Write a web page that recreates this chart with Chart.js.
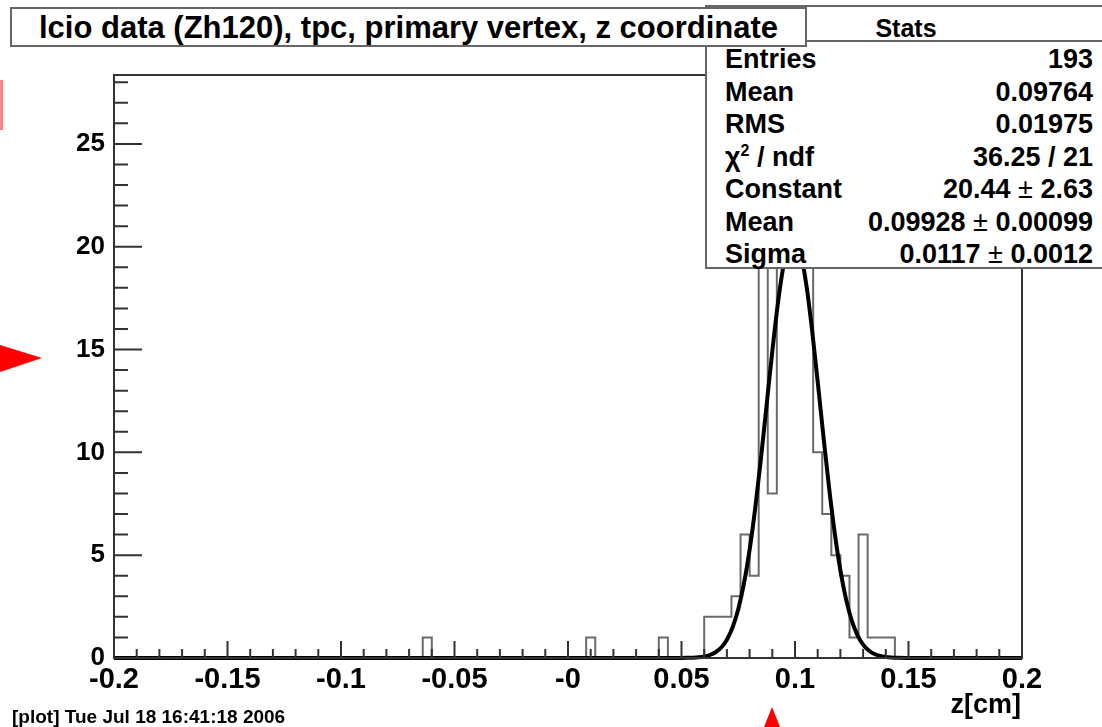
<!DOCTYPE html>
<html>
<head>
<meta charset="utf-8">
<script src="https://cdn.jsdelivr.net/npm/chart.js@4.4.1/dist/chart.umd.min.js"></script>
<style>
  body { margin: 0; background: #fff; }
  #page { position: relative; width: 1102px; height: 727px; overflow: hidden;
          font-family: "Liberation Sans", Arial, Helvetica, sans-serif; font-weight: bold; color: #000; }
  canvas { position: absolute; left: 0; top: 0; }
  .pave { position: absolute; background: #fff; border: 2px solid #666; box-sizing: border-box; }
  #title { left: 10px; top: 7px; width: 797px; height: 40px; font-size: 31px; line-height: 37px;
           text-align: center; z-index: 3; white-space: nowrap; }
  #stats { left: 705px; top: 5px; width: 402px; height: 264px; z-index: 2; font-size: 27px; }
  #stats .head { position: absolute; left: 0; right: 0; top: 0; height: 33px; line-height: 42px;
                 text-align: center; border-bottom: 2px solid #666; font-size: 25px; }
  #stats .row { position: absolute; left: 18px; width: 368px; height: 30px; line-height: 30px; white-space: nowrap; }
  #stats .val { position: absolute; right: 0; top: 0; }
  #stats sup { font-size: 16px; line-height: 0; vertical-align: 10px; }
  .pm { font-weight: normal; }
  #footer { position: absolute; left: 12px; top: 706px; font-size: 19px; white-space: nowrap; }
  #xtitle { position: absolute; right: 81px; top: 689px; font-size: 27px; }
  svg { position: absolute; left: 0; top: 0; z-index: 4; }
</style>
</head>
<body>
<div id="page">
  <canvas id="c" width="1102" height="727"></canvas>
  <div id="title" class="pave"></div>
  <div id="stats" class="pave"><div class="head">Stats</div></div>
  <div id="xtitle"></div>
  <div id="footer"></div>
  <svg width="1102" height="727">
    <rect x="0" y="80" width="3" height="50" fill="#f33" opacity="0.6"></rect>
    <polygon points="0,345 42,358 0,372" fill="#f00"></polygon>
    <polygon points="772,707 764,727 780,727" fill="#f00"></polygon>
  </svg>
</div>
<script>
// histogram: 100 bins of 0.004 from -0.2 to 0.2, only the filled ones listed
const xMin = -0.2, xMax = 0.2, binWidth = 0.004;
const binLow = [-0.064, 0.008, 0.040, 0.060, 0.064, 0.068, 0.072, 0.076, 0.080, 0.084,
                0.088, 0.092, 0.096, 0.100, 0.104, 0.108, 0.112, 0.116, 0.120, 0.124,
                0.128, 0.132, 0.136, 0.140];
const binCounts = [1, 1, 1, 2, 2, 2, 3, 6, 4, 23,
                   8, 26, 27, 27, 24, 10, 7, 5, 4, 1,
                   6, 1, 1, 1];

// gaussian fit curve
const fitZ = [-0.2, 0.045, 0.050, 0.0525, 0.055, 0.0575, 0.060, 0.0625, 0.065, 0.0675, 0.070,
              0.0725, 0.075, 0.0775, 0.080, 0.0825, 0.085, 0.0875, 0.090, 0.0925, 0.095,
              0.0975, 0.100, 0.1025, 0.105, 0.1075, 0.110, 0.1125, 0.115, 0.1175, 0.120,
              0.1225, 0.125, 0.1275, 0.130, 0.1325, 0.135, 0.1375, 0.140, 0.1425, 0.145,
              0.150, 0.155, 0.2];
const fitY = [0, 0.0005, 0.003, 0.007, 0.016, 0.035, 0.073, 0.146, 0.280, 0.511, 0.892,
              1.488, 2.373, 3.612, 5.257, 7.312, 9.705, 12.31, 14.92, 17.28, 19.12,
              20.21, 20.40, 19.68, 18.14, 15.97, 13.43, 10.80, 8.289, 6.079, 4.260,
              2.852, 1.824, 1.115, 0.651, 0.363, 0.193, 0.0985, 0.0479, 0.0222, 0.0099,
              0.002, 0.0004, 0];

const xTicks = [-0.2, -0.15, -0.1, -0.05, 0, 0.05, 0.1, 0.15, 0.2];
const xTickLabels = ["-0.2", "-0.15", "-0.1", "-0.05", "-0", "0.05", "0.1", "0.15", "0.2"];
const yTicks = [0, 5, 10, 15, 20, 25];
const yTickLabels = ["0", "5", "10", "15", "20", "25"];
const yMax = 28.35;

const titleText = "lcio data (Zh120), tpc, primary vertex, z coordinate";
const statsNames = ["Entries", "Mean", "RMS", "χ<sup>2</sup> / ndf", "Constant", "Mean", "Sigma"];
const statsValues = ["193", "0.09764", "0.01975", "36.25 / 21",
                     "20.44 <span class='pm'>±</span> 2.63",
                     "0.09928 <span class='pm'>±</span> 0.00099",
                     "0.0117 <span class='pm'>±</span> 0.0012"];
const xTitle = "z[cm]";
const footerText = "[plot] Tue Jul 18 16:41:18 2006";

// text overlays
document.getElementById('title').textContent = titleText;
document.getElementById('xtitle').textContent = xTitle;
document.getElementById('footer').textContent = footerText;
const stats = document.getElementById('stats');
statsNames.forEach((n, i) => {
  const r = document.createElement('div');
  r.className = 'row';
  r.style.top = (37 + i * 32.5) + 'px';
  r.innerHTML = n + '<span class="val">' + statsValues[i] + '</span>';
  stats.appendChild(r);
});

// step outline points
const nBins = Math.round((xMax - xMin) / binWidth);
const contents = new Array(nBins).fill(0);
binLow.forEach((lo, i) => { contents[Math.round((lo - xMin) / binWidth)] = binCounts[i]; });
const histPts = contents.map((v, i) => ({x: xMin + i * binWidth, y: v}));
histPts.push({x: xMax, y: 0});
const fitPts = fitZ.map((z, i) => ({x: z, y: fitY[i]}));

const family = '"Liberation Sans", Arial, Helvetica, sans-serif';

const rootAxes = {
  id: 'rootAxes',
  afterDatasetsDraw(chart) {
    const {ctx, chartArea: a, scales: {x, y}} = chart;
    ctx.save();
    ctx.strokeStyle = '#333';
    ctx.lineWidth = 2;
    ctx.strokeRect(a.left, a.top, a.right - a.left, a.bottom - a.top);
    ctx.beginPath();
    for (let k = 0; k <= 40; k++) {
      const px = x.getPixelForValue(xMin + k * 0.01);
      ctx.moveTo(px, a.bottom);
      ctx.lineTo(px, a.bottom - (k % 5 === 0 ? 17 : 9));
    }
    for (let k = 0; k <= 28; k++) {
      const py = y.getPixelForValue(k);
      ctx.moveTo(a.left, py);
      ctx.lineTo(a.left + (k % 5 === 0 ? 28 : 14), py);
    }
    ctx.stroke();
    ctx.restore();
  }
};

new Chart(document.getElementById('c'), {
  type: 'line',
  data: {
    datasets: [
      {data: fitPts, borderColor: '#000', borderWidth: 4, pointRadius: 0,
       cubicInterpolationMode: 'monotone', clip: 4, order: 0},
      {data: histPts, borderColor: '#6a6a6a', borderWidth: 2, pointRadius: 0,
       stepped: true, order: 1}
    ]
  },
  options: {
    responsive: false,
    animation: false,
    layout: {padding: {left: 0, top: 75, right: 80, bottom: 0}},
    plugins: {legend: {display: false}, tooltip: {enabled: false}},
    scales: {
      x: {
        type: 'linear', min: xMin, max: xMax,
        grid: {display: false, drawTicks: false}, border: {display: false},
        afterBuildTicks: s => { s.ticks = xTicks.map(v => ({value: v})); },
        afterFit: s => { s.height = 69; },
        ticks: {callback: (v, i) => xTickLabels[i], autoSkip: false, maxRotation: 0,
                font: {family: family, weight: 'bold', size: 29}, color: '#000', padding: 5}
      },
      y: {
        type: 'linear', min: 0, max: yMax,
        grid: {display: false, drawTicks: false}, border: {display: false},
        afterBuildTicks: s => { s.ticks = yTicks.map(v => ({value: v})); },
        afterFit: s => { s.width = 114; },
        ticks: {callback: (v, i) => yTickLabels[i], font: {family: family, weight: 'bold', size: 26},
                color: '#000', padding: 9}
      }
    }
  },
  plugins: [rootAxes]
});
</script>
</body>
</html>
